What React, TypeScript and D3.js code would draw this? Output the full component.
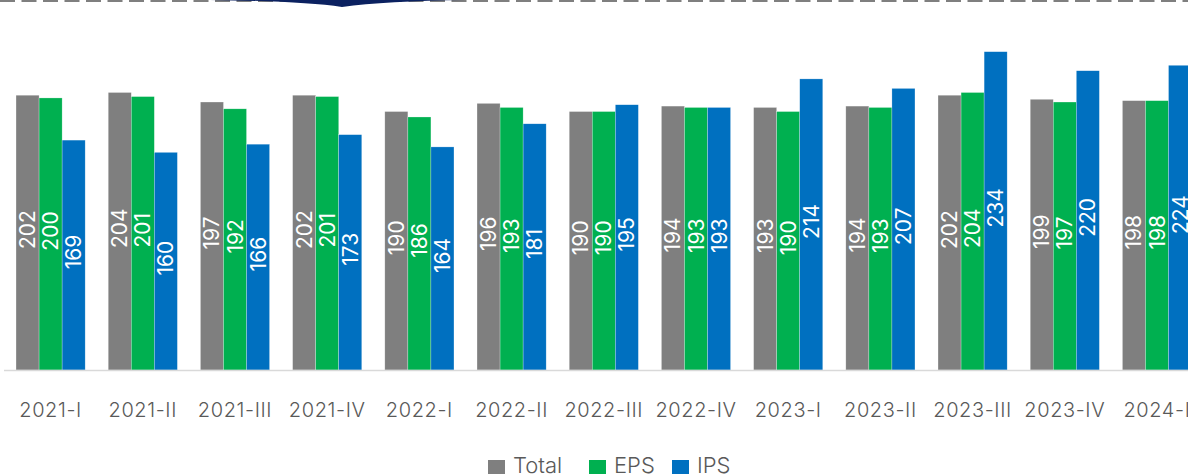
import React from 'react';
import { scaleBand, scaleLinear } from 'd3';

const periods = [
  '2021-I', '2021-II', '2021-III', '2021-IV',
  '2022-I', '2022-II', '2022-III', '2022-IV',
  '2023-I', '2023-II', '2023-III', '2023-IV',
  '2024-I',
];
const totalValues = [202, 204, 197, 202, 190, 196, 190, 194, 193, 194, 202, 199, 198];
const epsValues = [200, 201, 192, 201, 186, 193, 190, 193, 190, 193, 204, 197, 198];
const ipsValues = [169, 160, 166, 173, 164, 181, 195, 193, 214, 207, 234, 220, 224];

const seriesNames = ['Total', 'EPS', 'IPS'];
const seriesColors = ['#7f7f7f', '#00b050', '#0070c0'];
const seriesValues = [totalValues, epsValues, ipsValues];

const WIDTH = 1188;
const HEIGHT = 476;
const BASELINE = 370;
const FONT = 'Inter, "Open Sans", sans-serif';

export default function App() {
  const step = 92.2;
  const x = scaleBand<string>()
    .domain(periods)
    .range([4.5, 4.5 + step * periods.length])
    .paddingInner(0.25)
    .paddingOuter(0.125);

  const xSeries = scaleBand<string>()
    .domain(seriesNames)
    .range([0, x.bandwidth()])
    .padding(0);

  const y = scaleLinear().domain([0, 272]).range([BASELINE, 0]);

  // legend layout: square, gap, label, gap to next item
  const legendWidths = [56, 38, 27];
  const legendItems: { name: string; color: string; x: number }[] = [];
  let lx = 488;
  seriesNames.forEach((name, i) => {
    legendItems.push({ name, color: seriesColors[i], x: lx });
    lx += 25 + legendWidths[i] + 20;
  });

  return (
    <svg
      width={WIDTH}
      height={HEIGHT}
      style={{ position: 'absolute', left: 0, top: 0, background: '#fff' }}
    >
      {/* top decoration */}
      <line
        x1={0}
        y1={1}
        x2={WIDTH}
        y2={1}
        stroke="#7f7f7f"
        strokeWidth={2}
        strokeDasharray="15 6.5"
      />
      <path
        d="M210,0 Q300,1 342,7 Q385,1 466,0 Z"
        fill="#0b2160"
      />

      {/* bars */}
      {periods.map((p, i) => (
        <g key={p} transform={`translate(${x(p)},0)`}>
          {seriesNames.map((s, j) => {
            const v = seriesValues[j][i];
            const bx = xSeries(s) ?? 0;
            const top = y(v);
            const cx = bx + xSeries.bandwidth() / 2;
            const cy = (top + BASELINE) / 2 - 3;
            return (
              <g key={s}>
                <rect
                  x={bx}
                  y={top}
                  width={xSeries.bandwidth()}
                  height={BASELINE - top}
                  fill={seriesColors[j]}
                  stroke="rgba(255,255,255,0.5)"
                  strokeWidth={0.5}
                />
                <text
                  transform={`translate(${cx},${cy}) rotate(-90)`}
                  textAnchor="middle"
                  dominantBaseline="central"
                  fill="#fff"
                  fontFamily={FONT}
                  fontSize={21}
                >
                  {v}
                </text>
              </g>
            );
          })}
        </g>
      ))}

      {/* axis line */}
      <line
        x1={4}
        x2={WIDTH}
        y1={BASELINE + 0.5}
        y2={BASELINE + 0.5}
        stroke="#d9d9d9"
        strokeWidth={1.5}
      />

      {/* category labels */}
      {periods.map((p) => (
        <text
          key={p}
          x={(x(p) ?? 0) + x.bandwidth() / 2}
          y={417}
          textAnchor="middle"
          fill="#595959"
          fontFamily={FONT}
          fontSize={20}
          fontWeight={300}
          letterSpacing={0.6}
        >
          {p}
        </text>
      ))}

      {/* legend */}
      {legendItems.map((item) => (
        <g key={item.name}>
          <rect x={item.x} y={460} width={17} height={14} fill={item.color} />
          <text
            x={item.x + 25}
            y={473}
            fill="#595959"
            fontFamily={FONT}
            fontSize={22}
            fontWeight={300}
          >
            {item.name}
          </text>
        </g>
      ))}
    </svg>
  );
}
